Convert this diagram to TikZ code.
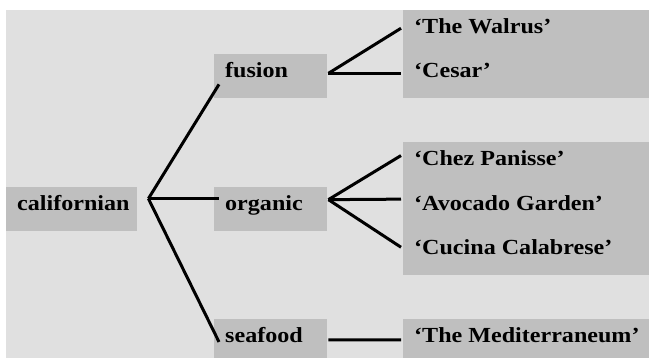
\documentclass[tikz,border=0pt]{standalone}
\usepackage{fontspec}
\setmainfont{Liberation Serif}[FakeStretch=1.12]
\usetikzlibrary{positioning,calc}

\definecolor{backgray}{gray}{0.88}
\definecolor{cellgray}{gray}{0.75}

\tikzset{
  cell/.style={rectangle, fill=cellgray, draw=none, anchor=north west,
    inner xsep=11pt, inner ysep=0pt, align=left,
    text height=23.5pt, text depth=20.6pt,
    font=\fontsize{21.5}{24}\selectfont\bfseries},
  cuisine/.style={cell, text width=91pt},
  venue/.style={cell, fill=none}
}
\tikzset{branch/.style={line width=3pt, line cap=butt}}

\begin{document}
\begin{tikzpicture}[x=1pt,y=-1pt]

  \useasboundingbox (0,0) rectangle (649,358);
  \fill[backgray] (6,10) rectangle (649,358);

  % shaded blocks behind the restaurants
  \fill[cellgray] (403,10) rectangle (649,98.2);
  \fill[cellgray] (403,142.3) rectangle (649,274.6);
  \fill[cellgray] (403,318.7) rectangle (649,362.8);

  \node [cell, text width=109pt] at(6,186.4) (californian) {californian};
  \node [cuisine] at(214,54.1) (fusion) {fusion};
  \node [cuisine] at(214,186.4) (organic) {organic};
  \node [cuisine] at(214,318.7) (seafood) {seafood};

  \foreach \name/\row/\txt in {walrus/0/{‘The Walrus’}, cesar/1/{‘Cesar’},
      chez/3/{‘Chez Panisse’}, avocado/4/{‘Avocado Garden’},
      cucina/5/{‘Cucina Calabrese’}, medit/7/{‘The Mediterraneum’}}
  {
    \node [venue] at(403,{10+44.1*\row}) (\name) {\txt};
  }

  \coordinate (calfork) at ([shift={(11,-10)}]californian.east);
  \coordinate (fusfork) at ([shift={(1,-3)}]fusion.east);
  \coordinate (orgfork) at ([shift={(1,-9)}]organic.east);

  \foreach \dst/\dy in {fusion/8, organic/-10, seafood/1}
  {
    \draw[branch] (calfork) -- ([shift={(5,\dy)}]\dst.west);
  }

  \foreach \src/\dst/\dy in {fusfork/walrus/-4, fusfork/cesar/-3,
      orgfork/chez/-9, orgfork/avocado/-9.5, orgfork/cucina/-5.5}
  {
    \draw[branch] (\src) -- ([shift={(-2,\dy)}]\dst.west);
  }

  \draw[branch] ([shift={(1,-1)}]seafood.east) -- ([shift={(-2,-1)}]medit.west);

\end{tikzpicture}
\end{document}
